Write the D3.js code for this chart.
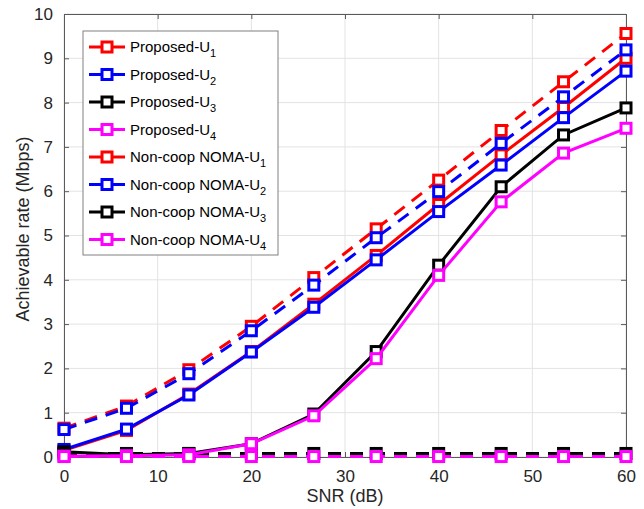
<!DOCTYPE html>
<html>
<head>
<meta charset="utf-8">
<script src="https://cdn.jsdelivr.net/npm/d3@7"></script>
<style>
  body { margin: 0; background: #fff; }
  text { font-family: "Liberation Sans", Arial, sans-serif; }
</style>
</head>
<body>
<div id="chart"></div>
<script>
'use strict'

// SNR (dB) sample points
const snr = [0, 6.67, 13.33, 20, 26.67, 33.33, 40, 46.67, 53.33, 60]

// achievable rates (Mbps)
const proposedU1 = [0.15, 0.60, 1.42, 2.38, 3.45, 4.55, 5.70, 6.82, 7.89, 9.00]
const proposedU2 = [0.17, 0.63, 1.40, 2.37, 3.38, 4.45, 5.54, 6.59, 7.66, 8.71]
const proposedU3 = [0.12, 0.05, 0.08, 0.30, 0.97, 2.38, 4.33, 6.10, 7.27, 7.88]
const proposedU4 = [0.02, 0.03, 0.05, 0.30, 0.93, 2.22, 4.10, 5.76, 6.86, 7.42]
const noncoopU1 = [0.65, 1.15, 1.97, 2.95, 4.05, 5.15, 6.25, 7.37, 8.47, 9.56]
const noncoopU2 = [0.62, 1.10, 1.88, 2.85, 3.88, 4.95, 5.99, 7.08, 8.13, 9.19]
const noncoopU3 = [0.08, 0.08, 0.08, 0.08, 0.08, 0.08, 0.08, 0.08, 0.08, 0.08]
const noncoopU4 = [0.01, 0.01, 0.01, 0.01, 0.01, 0.01, 0.01, 0.01, 0.01, 0.01]

const xTicks = [0, 10, 20, 30, 40, 50, 60]
const yTicks = [0, 1, 2, 3, 4, 5, 6, 7, 8, 9, 10]

// legend order
const series = [
    { label: "Proposed-U", sub: "1", values: proposedU1, color: "#ff0000", dashed: false },
    { label: "Proposed-U", sub: "2", values: proposedU2, color: "#0000ff", dashed: false },
    { label: "Proposed-U", sub: "3", values: proposedU3, color: "#000000", dashed: false },
    { label: "Proposed-U", sub: "4", values: proposedU4, color: "#ff00ff", dashed: false },
    { label: "Non-coop NOMA-U", sub: "1", values: noncoopU1, color: "#ff0000", dashed: true },
    { label: "Non-coop NOMA-U", sub: "2", values: noncoopU2, color: "#0000ff", dashed: true },
    { label: "Non-coop NOMA-U", sub: "3", values: noncoopU3, color: "#000000", dashed: true },
    { label: "Non-coop NOMA-U", sub: "4", values: noncoopU4, color: "#ff00ff", dashed: true }
]

// drawing order: each user's pair together so later users sit on top
const drawOrder = [0, 4, 1, 5, 2, 6, 3, 7]

////////////////////////////////////
//////////// svg setup /////////////
////////////////////////////////////

const svgWidth = 644
const svgHeight = 509
const margin = { left: 64, right: 18, top: 14, bottom: 52 }
const width = svgWidth - margin.left - margin.right
const height = svgHeight - margin.top - margin.bottom

const root = d3.select("#chart").append("svg")
    .attr("width", svgWidth)
    .attr("height", svgHeight)

const svg = root.append("g")
    .attr("transform", `translate(${margin.left},${margin.top})`)

const x = d3.scaleLinear().domain([0, 60]).range([0, width])
const y = d3.scaleLinear().domain([0, 10]).range([height, 0])

const axisColor = "#5a5a5a"
const gridColor = "#e3e3e3"

// grid
svg.append("g")
    .selectAll("line")
    .data(xTicks)
    .join("line")
    .attr("x1", d => x(d)).attr("x2", d => x(d))
    .attr("y1", 0).attr("y2", height)
    .attr("stroke", gridColor)

svg.append("g")
    .selectAll("line")
    .data(yTicks)
    .join("line")
    .attr("x1", 0).attr("x2", width)
    .attr("y1", d => y(d)).attr("y2", d => y(d))
    .attr("stroke", gridColor)

// axes (ticks point inward, MATLAB style)
svg.append("g")
    .attr("transform", `translate(0,${height})`)
    .call(d3.axisBottom(x).tickValues(xTicks).tickSizeInner(-5).tickSizeOuter(0).tickPadding(13))
svg.append("g")
    .call(d3.axisLeft(y).tickValues(yTicks).tickSizeInner(-5).tickSizeOuter(0).tickPadding(11))

svg.append("g")
    .call(d3.axisTop(x).tickValues(xTicks).tickSizeInner(-5).tickSizeOuter(0).tickFormat(""))
svg.append("g")
    .attr("transform", `translate(${width},0)`)
    .call(d3.axisRight(y).tickValues(yTicks).tickSizeInner(-5).tickSizeOuter(0).tickFormat(""))

svg.selectAll(".domain").attr("stroke", axisColor)
svg.selectAll(".tick line").attr("stroke", axisColor)
svg.selectAll(".tick text")
    .attr("fill", "#262626")
    .style("font-size", "17px")
    .style("font-family", "'Liberation Sans', Arial, sans-serif")

// axis titles
svg.append("text")
    .attr("x", width / 2)
    .attr("y", height + 45)
    .attr("text-anchor", "middle")
    .attr("fill", "#262626")
    .style("font-size", "18px")
    .text("SNR (dB)")

svg.append("text")
    .attr("transform", `translate(${-35},${229 - margin.top}) rotate(-90)`)
    .attr("text-anchor", "middle")
    .attr("fill", "#262626")
    .style("font-size", "18px")
    .text("Achievable rate (Mbps)")

////////////////////////////////////
//////////// lines /////////////////
////////////////////////////////////

const line = d3.line()
    .x((d, i) => x(snr[i]))
    .y(d => y(d))

const plot = svg.append("g")
const markerSize = 10

drawOrder.forEach(k => {
    const s = series[k]
    const g = plot.append("g")
    g.append("path")
        .datum(s.values)
        .attr("d", line)
        .attr("fill", "none")
        .attr("stroke", s.color)
        .attr("stroke-width", 3)
        .attr("stroke-dasharray", s.dashed ? "13,9" : null)
    g.selectAll("rect")
        .data(s.values)
        .join("rect")
        .attr("x", (d, i) => x(snr[i]) - markerSize / 2)
        .attr("y", d => y(d) - markerSize / 2)
        .attr("width", markerSize)
        .attr("height", markerSize)
        .attr("fill", "#fff")
        .attr("stroke", s.color)
        .attr("stroke-width", 3)
})

////////////////////////////////////
//////////// legend ////////////////
////////////////////////////////////

const legend = svg.append("g")
    .attr("transform", `translate(${83 - margin.left},${31 - margin.top})`)

legend.append("rect")
    .attr("width", 195)
    .attr("height", 224)
    .attr("fill", "#fff")
    .attr("stroke", "#808080")
    .attr("stroke-width", 1)

const rowH = 27.5
series.forEach((s, i) => {
    const ly = 16 + i * rowH
    const row = legend.append("g").attr("transform", `translate(0,${ly})`)
    row.append("line")
        .attr("x1", 6).attr("x2", 42)
        .attr("y1", 0).attr("y2", 0)
        .attr("stroke", s.color)
        .attr("stroke-width", 3)
    row.append("rect")
        .attr("x", 24 - markerSize / 2)
        .attr("y", -markerSize / 2)
        .attr("width", markerSize)
        .attr("height", markerSize)
        .attr("fill", "#fff")
        .attr("stroke", s.color)
        .attr("stroke-width", 3)
    const t = row.append("text")
        .attr("x", 47)
        .attr("y", 5)
        .attr("fill", "#000")
        .style("font-size", "15px")
    t.append("tspan").text(s.label)
    t.append("tspan")
        .attr("dy", 5)
        .style("font-size", "11px")
        .text(s.sub)
})
</script>
</body>
</html>
